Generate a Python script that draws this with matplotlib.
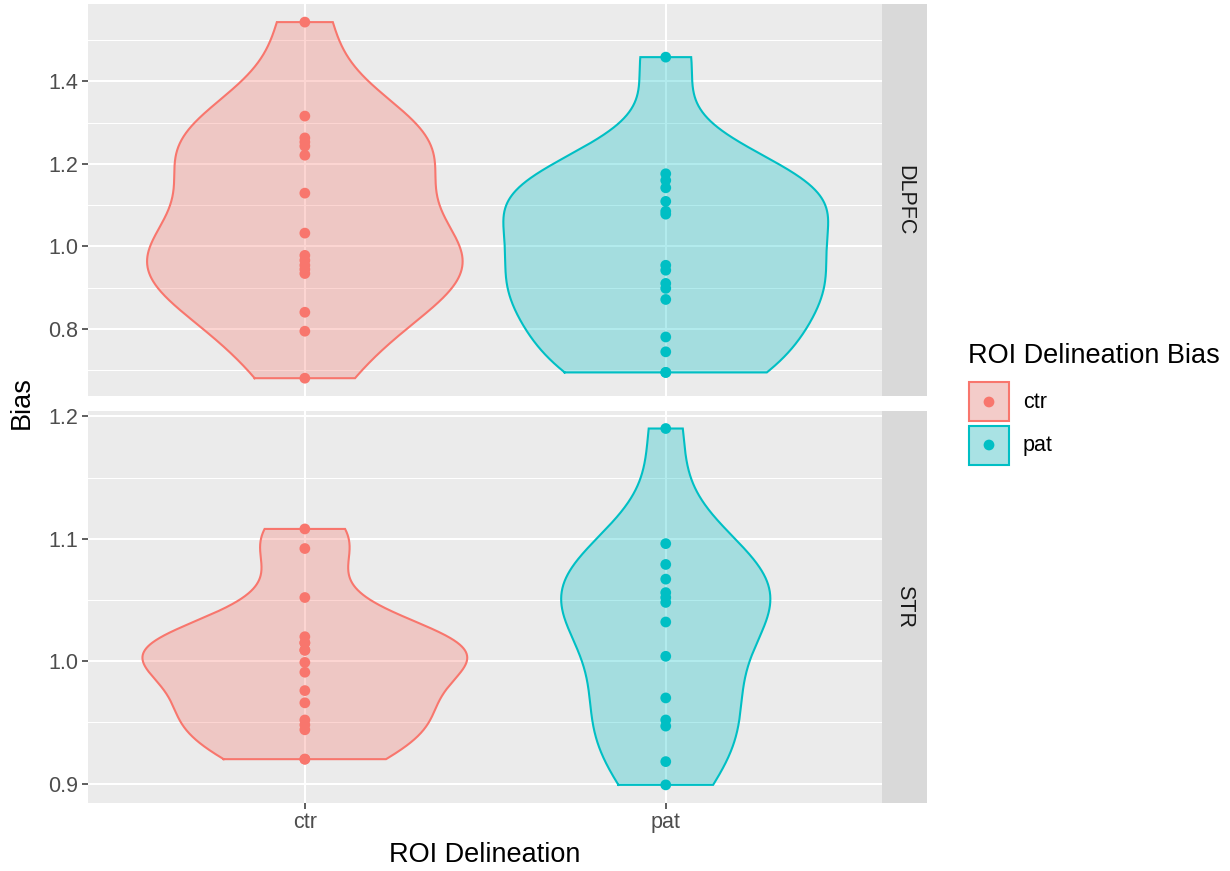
import numpy as np
import matplotlib
matplotlib.use("Agg")
import matplotlib.pyplot as plt
from matplotlib.patches import Rectangle

plt.rcParams['font.family'] = ['Liberation Sans', 'DejaVu Sans']

# ---------------- data ----------------
groups = ["ctr", "pat"]
facets = ["DLPFC", "STR"]
dlpfc_ctr = [1.544, 1.316, 1.263, 1.253, 1.243, 1.221, 1.129, 1.032, 0.978,
             0.966, 0.954, 0.944, 0.934, 0.840, 0.794, 0.680]
dlpfc_pat = [1.459, 1.176, 1.160, 1.142, 1.109, 1.085, 1.078, 0.954, 0.942,
             0.910, 0.898, 0.871, 0.780, 0.744, 0.694, 0.694]
str_ctr = [1.108, 1.092, 1.052, 1.020, 1.015, 1.015, 1.009, 1.009, 0.999,
           0.991, 0.976, 0.966, 0.952, 0.948, 0.944, 0.920, 0.920]
str_pat = [1.190, 1.096, 1.079, 1.067, 1.056, 1.052, 1.048, 1.032, 1.004,
           0.970, 0.952, 0.947, 0.918, 0.899]
dlpfc_ticks = [0.8, 1.0, 1.2, 1.4]
dlpfc_minor = [0.7, 0.9, 1.1, 1.3, 1.5]
str_ticks = [0.9, 1.0, 1.1, 1.2]
str_minor = [0.95, 1.05, 1.15]

colors = {"ctr": "#F8766D", "pat": "#00BFC4"}

panel_data = {
    "DLPFC": {"ctr": dlpfc_ctr, "pat": dlpfc_pat},
    "STR": {"ctr": str_ctr, "pat": str_pat},
}
panel_ticks = {"DLPFC": (dlpfc_ticks, dlpfc_minor), "STR": (str_ticks, str_minor)}


def bw_nrd0(x):
    x = np.asarray(x, float)
    sd = np.std(x, ddof=1)
    q75, q25 = np.percentile(x, [75, 25])
    lo = min(sd, (q75 - q25) / 1.34)
    if lo == 0:
        lo = sd
    return 0.9 * lo * len(x) ** (-0.2)


def kde(x, grid):
    x = np.asarray(x, float)
    bw = bw_nrd0(x)
    z = (grid[:, None] - x[None, :]) / bw
    return np.exp(-0.5 * z ** 2).sum(axis=1) / (len(x) * bw * np.sqrt(2 * np.pi))


W, H = 1230, 871
fig = plt.figure(figsize=(W / 100, H / 100), dpi=100)

def px_rect(x0, y0, x1, y1):
    return [x0 / W, 1 - y1 / H, (x1 - x0) / W, (y1 - y0) / H]

panel_px = {"DLPFC": (88.3, 4.3, 882.3, 396.0), "STR": (88.3, 410.7, 882.3, 802.7)}
strip_x1 = 926.7

TICK_COL = "#333333"
LAB_COL = "#4D4D4D"
TICK_FS = 15.5
TITLE_FS = 19.5
STRIP_FS = 15.5

for fi, facet in enumerate(facets):
    x0, y0, x1, y1 = panel_px[facet]
    ax = fig.add_axes(px_rect(x0, y0, x1, y1))
    ax.set_facecolor("#EBEBEB")
    for s in ax.spines.values():
        s.set_visible(False)
    data = panel_data[facet]
    allv = np.concatenate([data[g] for g in groups])
    lo, hi = allv.min(), allv.max()
    pad = 0.05 * (hi - lo)
    ax.set_ylim(lo - pad, hi + pad)
    ax.set_xlim(-0.6, 1.6)
    ticks, minor = panel_ticks[facet]
    for m in minor:
        ax.axhline(m, color="white", lw=0.75, zorder=0.5)
    for t in ticks:
        ax.axhline(t, color="white", lw=1.45, zorder=0.6)
    for i in range(len(groups)):
        ax.axvline(i, color="white", lw=1.45, zorder=0.6)

    dens = {}
    grids = {}
    for g in groups:
        v = np.asarray(data[g], float)
        grid = np.linspace(v.min(), v.max(), 512)
        grids[g] = grid
        dens[g] = kde(v, grid)
    dmax = max(d.max() for d in dens.values())
    for i, g in enumerate(groups):
        w = 0.45 * dens[g] / dmax
        grid = grids[g]
        xs = np.concatenate([i - w, (i + w)[::-1], [i - w[0]]])
        ys = np.concatenate([grid, grid[::-1], [grid[0]]])
        ax.fill(xs, ys, facecolor=colors[g], alpha=0.3, edgecolor="none", zorder=2)
        ax.plot(xs, ys, color=colors[g], lw=1.5, zorder=3, solid_joinstyle="miter")
        ax.scatter(np.full(len(data[g]), i), data[g], s=60, color=colors[g],
                   edgecolors="none", zorder=4)

    ax.set_yticks(ticks)
    ax.set_yticklabels([f"{t:.1f}" for t in ticks])
    ax.tick_params(axis="y", length=4, width=1.1, color=TICK_COL, pad=3,
                   labelsize=TICK_FS, labelcolor=LAB_COL)
    if fi == len(facets) - 1:
        ax.set_xticks(range(len(groups)))
        ax.set_xticklabels(groups)
        ax.tick_params(axis="x", length=4, width=1.1, color=TICK_COL, pad=3,
                       labelsize=TICK_FS, labelcolor=LAB_COL)
    else:
        ax.set_xticks([])

    # strip
    sax = fig.add_axes(px_rect(x1, y0, strip_x1, y1))
    sax.set_facecolor("#D9D9D9")
    sax.set_xticks([]); sax.set_yticks([])
    for s in sax.spines.values():
        s.set_visible(False)
    sax.text(0.5, 0.5, facet, rotation=-90, ha="center", va="center",
             fontsize=STRIP_FS, color="#1A1A1A", transform=sax.transAxes)

# axis titles
fig.text(485 / W, 1 - 855 / H, "ROI Delineation", ha="center", va="center",
         fontsize=TITLE_FS, color="black")
fig.text(22 / W, 1 - 403 / H, "Bias", ha="center", va="center", rotation=90,
         fontsize=TITLE_FS, color="black")

# legend
lax = fig.add_axes([0, 0, 1, 1], facecolor="none")
lax.set_xlim(0, W); lax.set_ylim(H, 0)
lax.axis("off")
lax.text(968, 356, "ROI Delineation Bias", ha="left", va="center",
         fontsize=TITLE_FS, color="black")
key_tops = [381.5, 424.5]
for g, kt in zip(groups, key_tops):
    lax.add_patch(Rectangle((968, kt), 42, 41, facecolor="#F2F2F2", edgecolor="none"))
    lax.add_patch(Rectangle((969, kt + 1), 40, 39, facecolor=colors[g], alpha=0.3,
                            edgecolor="none"))
    lax.add_patch(Rectangle((969, kt + 1), 40, 39, facecolor="none",
                            edgecolor=colors[g], lw=1.5))
    lax.scatter([989], [kt + 20.5], s=60, color=colors[g], edgecolors="none")
    lax.text(1023, kt + 20.5, g, ha="left", va="center", fontsize=TICK_FS, color="black")

fig.savefig("out.png", dpi=100)
